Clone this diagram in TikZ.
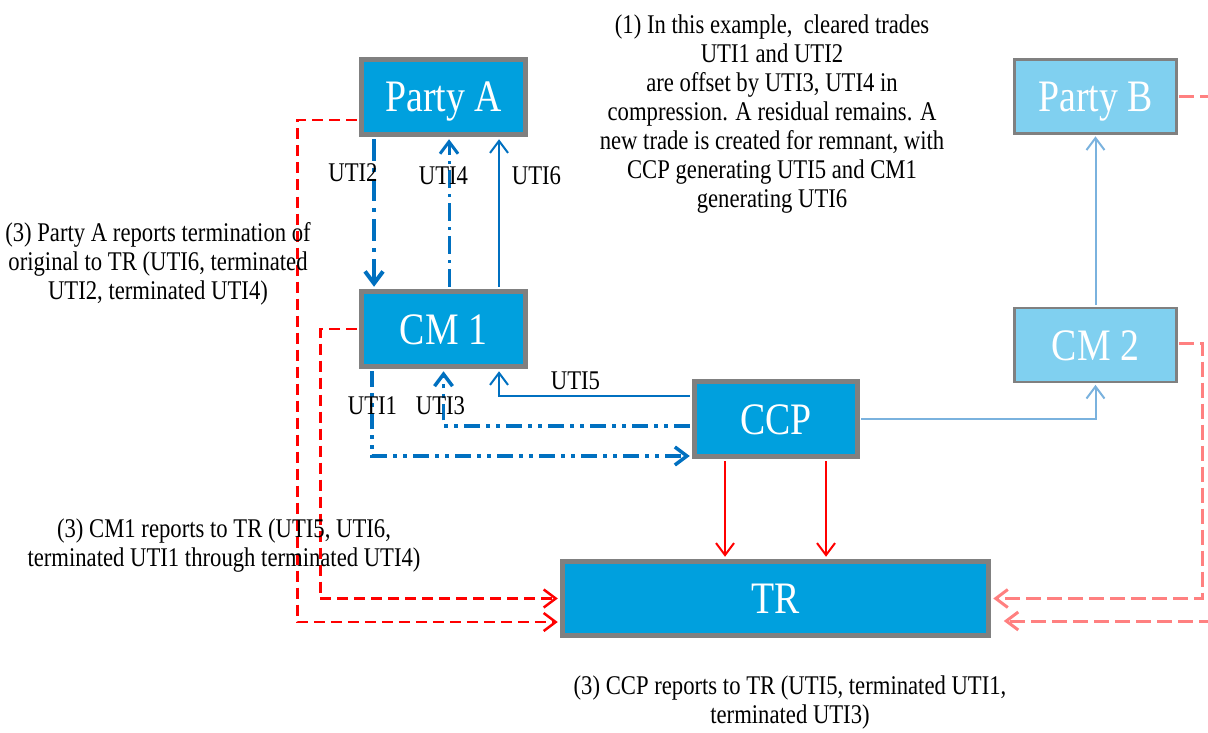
\documentclass[tikz,border=0pt]{standalone}
\usepackage{fontspec}
\setmainfont{Liberation Serif}[FakeStretch=0.84]
\usepackage{tikz}
\usetikzlibrary{arrows.meta, positioning, calc}

\definecolor{boxblue}{RGB}{0,160,222}
\definecolor{lightblue}{RGB}{128,208,240}
\definecolor{boxgray}{RGB}{128,128,128}
\definecolor{lineblue}{RGB}{0,112,192}
\definecolor{paleblue}{RGB}{122,178,222}
\definecolor{palered}{RGB}{255,128,128}

\begin{document}
\begin{tikzpicture}[x=1pt, y=-1pt,
    >={Straight Barb[length=12pt,width=18pt]},
    box/.style={draw=boxgray, line width=4.5pt, fill=boxblue, text=white,
        font=\fontsize{45}{50}\selectfont, text height=30pt, text depth=0pt,
        minimum width=164pt, minimum height=75pt},
    lightbox/.style={box, line width=2.7pt, fill=lightblue,
        minimum width=162pt, minimum height=74pt},
    lbl/.style={font=\fontsize{27}{29}\selectfont, inner sep=0pt, anchor=base},
    note/.style={font=\fontsize{27}{29}\selectfont, inner sep=0pt, anchor=north, align=center},
    flow/.style={draw=lineblue, shorten <=2.5pt, shorten >=2.5pt},
    utia/.style={flow, line width=4pt, dash pattern=on 22pt off 7pt on 4pt off 7pt},
    utib/.style={flow, line width=3pt, dash pattern=on 18pt off 6pt on 3pt off 6pt},
    utic/.style={flow, line width=3.5pt, dash pattern=on 16pt off 6pt on 4pt off 6pt on 4pt off 6pt},
    solidb/.style={flow, line width=2pt},
    paleline/.style={draw=paleblue, line width=2pt, shorten <=1.5pt, shorten >=1.5pt},
    redline/.style={draw=red, line width=2pt, shorten <=2.5pt, shorten >=2.5pt},
    reddash/.style={draw=red, line width=2.5pt, dash pattern=on 11pt off 6pt,
        shorten <=2.5pt, shorten >=2.5pt},
    paledash/.style={draw=palered, line width=3pt, dash pattern=on 15pt off 6pt,
        shorten <=1.5pt, shorten >=2.5pt}
]
\useasboundingbox (0,0) rectangle (1208,733);
\clip (0,0) rectangle (1208,733);

\node[box] (pa) at (443.5,97) {Party A};
\node[box] (cm1) at (443.5,329) {CM 1};
\node[box, minimum width=163pt] (ccp) at (776,419) {CCP};
\node[box, minimum width=426pt, minimum height=74pt] (tr) at (775.5,598.5) {TR};
\node[lightbox] (pb) at (1095.5,96.5) {Party B};
\node[lightbox] (cm2) at (1095.5,345) {CM 2};

% trades between the parties, the members and the CCP
\draw[utia, ->] ([xshift=-69.5pt]pa.south) -- ([xshift=-69.5pt]cm1.north);
\draw[utib, ->] ([xshift=5.5pt]cm1.north) -- ([xshift=5.5pt]pa.south);
\draw[solidb, ->] ([xshift=55.5pt]cm1.north) -- ([xshift=55.5pt]pa.south);
\draw[utic, ->] ([xshift=-71.5pt]cm1.south) |- ([yshift=-37pt]ccp.west);
\draw[utic, ->] ([yshift=-7pt]ccp.west) -| (cm1.south);
\draw[solidb, ->] ([yshift=23pt]ccp.west) -| ([xshift=55.5pt]cm1.south);
\draw[paleline, ->] (ccp.east) -| (cm2.south);
\draw[paleline, ->] (cm2.north) -- (pb.south);

% reports to TR
\draw[redline, ->] ([xshift=-51pt]ccp.south) -- ([xshift=-50.5pt]tr.north);
\draw[redline, ->] ([xshift=50pt]ccp.south) -- ([xshift=50.5pt]tr.north);
\draw[reddash, ->] ([yshift=-23pt]pa.west) -- ++(-62,0) |- ([yshift=-23.5pt]tr.west);
\draw[reddash, ->] (cm1.west) -- ++(-39,0) |- (tr.west);
\draw[paledash, ->] ([yshift=2pt]cm2.east) -- ++(25,0) |- (tr.east);
\draw[paledash] (pb.east) -- ++(45,0);
\coordinate (redge) at (1215,621);
\draw[paledash, ->, shorten >=13pt] (redge) -- ([yshift=-22.5pt]tr.east);

\node[lbl] (l2) at (353,182) {UTI2};
\node[lbl] (l4) at (443.5,185) {UTI4};
\node[lbl] (l6) at (536.5,185) {UTI6};
\node[lbl] (l1) at (372.5,414) {UTI1};
\node[lbl] (l3) at (440.5,414) {UTI3};
\node[lbl] (l5) at (575.5,389) {UTI5};

\node[note] (n1) at (772,15) {(1) In this example, \ cleared trades\\UTI1 and UTI2\\are offset by UTI3, UTI4 in\\compression. A residual remains. A\\new trade is created for remnant, with\\CCP generating UTI5 and CM1\\generating UTI6};
\node[note] (npa) at (158,222) {(3) Party A reports termination of\\original to TR (UTI6, terminated\\UTI2, terminated UTI4)};
\node[note] (ncm) at (224,519) {(3) CM1 reports to TR (UTI5, UTI6,\\terminated UTI1 through terminated UTI4)};
\node[note] (nccp) at (790,676) {(3) CCP reports to TR (UTI5, terminated UTI1,\\terminated UTI3)};
\end{tikzpicture}
\end{document}
